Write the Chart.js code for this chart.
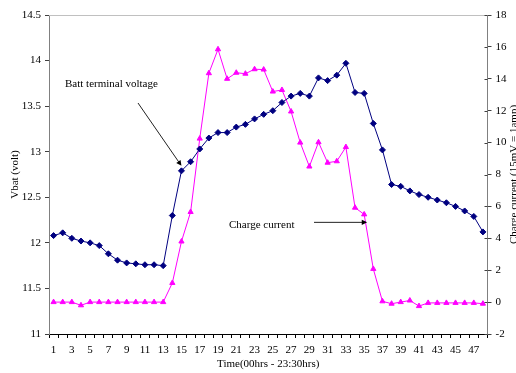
<!DOCTYPE html>
<html>
<head>
<meta charset="utf-8">
<script src="https://cdn.jsdelivr.net/npm/chart.js@4/dist/chart.umd.min.js"></script>
<style>
  html, body { margin: 0; padding: 0; background: #ffffff; }
  #wrap { width: 516px; height: 373px; }
</style>
</head>
<body>
<div id="wrap"><canvas id="c" width="516" height="373"></canvas></div>
<script>
// Half-hour time slots over one day
const timeSlots = Array.from({ length: 48 }, (_, i) => String(i + 1));

// Battery terminal voltage (V), left axis
const battVoltage = [
  12.08, 12.11, 12.05, 12.02, 12.00, 11.97, 11.88, 11.81, 11.78, 11.77, 11.76, 11.76,
  11.75, 12.30, 12.79, 12.89, 13.03, 13.15, 13.21, 13.21, 13.27, 13.30, 13.36, 13.41,
  13.45, 13.54, 13.61, 13.64, 13.61, 13.81, 13.78, 13.84, 13.97, 13.65, 13.64, 13.31,
  13.02, 12.64, 12.62, 12.57, 12.53, 12.50, 12.47, 12.44, 12.40, 12.35, 12.29, 12.12
];

// Charge current (15 mV = 1 A), right axis
const chargeCurrent = [
  0, 0, 0, -0.2, 0, 0, 0, 0, 0, 0, 0, 0,
  0, 1.2, 3.8, 5.65, 10.25, 14.35, 15.85, 14.0, 14.38, 14.32, 14.6, 14.58,
  13.2, 13.3, 11.95, 10.0, 8.5, 10.02, 8.74, 8.83, 9.72, 5.92, 5.5, 2.08,
  0.05, -0.1, 0, 0.1, -0.25, -0.05, -0.05, -0.05, -0.05, -0.05, -0.05, -0.1
];

const FONT = '"Liberation Serif", "Times New Roman", serif';

function arrow(ctx, x1, y1, x2, y2) {
  const ang = Math.atan2(y2 - y1, x2 - x1);
  const head = 6;
  ctx.beginPath();
  ctx.moveTo(x1, y1);
  ctx.lineTo(x2 - Math.cos(ang) * head * 0.8, y2 - Math.sin(ang) * head * 0.8);
  ctx.stroke();
  ctx.beginPath();
  ctx.moveTo(x2, y2);
  ctx.lineTo(x2 - head * Math.cos(ang - 0.45), y2 - head * Math.sin(ang - 0.45));
  ctx.lineTo(x2 - head * Math.cos(ang + 0.45), y2 - head * Math.sin(ang + 0.45));
  ctx.closePath();
  ctx.fill();
}

// Frame, inner ticks on the right axis, axis titles and callouts
const decorations = {
  id: 'decorations',
  afterDraw(chart) {
    const { ctx, chartArea: a, scales } = chart;
    const x = scales.x, yL = scales.yV, yR = scales.yI;
    ctx.save();
    // light top border of the plot area
    ctx.strokeStyle = '#c0c0c0';
    ctx.lineWidth = 1;
    ctx.beginPath();
    ctx.moveTo(a.left, Math.round(a.top) + 0.5);
    ctx.lineTo(a.right, Math.round(a.top) + 0.5);
    ctx.stroke();
    // right axis ticks cross into the plot
    ctx.strokeStyle = '#404040';
    yR.ticks.forEach((t) => {
      const py = Math.round(yR.getPixelForValue(t.value)) + 0.5;
      ctx.beginPath();
      ctx.moveTo(a.right - 3, py);
      ctx.lineTo(a.right, py);
      ctx.stroke();
    });

    ctx.fillStyle = '#000000';
    ctx.font = '11px ' + FONT;
    ctx.textBaseline = 'middle';

    // x axis title
    ctx.textAlign = 'center';
    ctx.fillText('Time(00hrs - 23:30hrs)', (a.left + a.right) / 2, 364);

    // left axis title
    ctx.save();
    ctx.translate(15, (a.top + a.bottom) / 2);
    ctx.rotate(-Math.PI / 2);
    ctx.fillText('Vbat (volt)', 0, 0);
    ctx.restore();

    // right axis title
    ctx.save();
    ctx.translate(514, (a.top + a.bottom) / 2);
    ctx.rotate(-Math.PI / 2);
    ctx.fillText('Charge current (15mV = 1amp)', 0, 0);
    ctx.restore();

    // callouts
    ctx.textAlign = 'left';
    ctx.fillText('Batt terminal voltage', 65, 84);
    ctx.fillText('Charge current', 229, 225);

    ctx.strokeStyle = '#222222';
    ctx.fillStyle = '#000000';
    ctx.lineWidth = 1;
    const vx = x.getPixelForValue(14);
    const vy = yL.getPixelForValue(battVoltage[14]) - 5;
    arrow(ctx, 138, 103, vx, vy);

    const cx = x.getPixelForValue(34) + 3;
    const cy = yR.getPixelForValue(5);
    arrow(ctx, 314, cy, cx, cy);
    ctx.restore();
  }
};

new Chart(document.getElementById('c'), {
  type: 'line',
  data: {
    labels: timeSlots,
    datasets: [
      {
        label: 'Batt terminal voltage',
        data: battVoltage,
        yAxisID: 'yV',
        borderColor: '#000080',
        backgroundColor: '#000080',
        borderWidth: 1,
        pointStyle: 'rectRot',
        pointRadius: 3,
        pointHoverRadius: 3,
        tension: 0
      },
      {
        label: 'Charge current',
        data: chargeCurrent,
        yAxisID: 'yI',
        borderColor: '#ff00ff',
        backgroundColor: '#ff00ff',
        borderWidth: 1,
        pointStyle: 'triangle',
        pointRadius: 3,
        pointHoverRadius: 3,
        tension: 0
      }
    ]
  },
  options: {
    responsive: false,
    animation: false,
    layout: { padding: { top: 15, left: 0, right: 0, bottom: 0 } },
    plugins: { legend: { display: false }, tooltip: { enabled: false } },
    scales: {
      x: {
        type: 'category',
        offset: true,
        afterFit(s) { s.height = 39; },
        grid: {
          offset: true,
          drawOnChartArea: false,
          tickLength: 4,
          tickColor: '#000000'
        },
        border: { color: '#000000', width: 1 },
        ticks: {
          autoSkip: false,
          maxRotation: 0,
          padding: 6,
          color: '#000000',
          font: { family: FONT, size: 11 },
          callback(v, i) { return i % 2 === 0 ? timeSlots[i] : ''; }
        }
      },
      yV: {
        position: 'left',
        min: 11,
        max: 14.5,
        afterFit(s) { s.width = 49; },
        grid: { drawOnChartArea: false, tickLength: 4, tickColor: '#404040' },
        border: { color: '#808080', width: 1 },
        ticks: {
          stepSize: 0.5,
          padding: 4,
          color: '#000000',
          font: { family: FONT, size: 11 },
          callback(v) { return String(Math.round(v * 10) / 10); }
        }
      },
      yI: {
        position: 'right',
        min: -2,
        max: 18,
        afterFit(s) { s.width = 28.5; },
        grid: { drawOnChartArea: false, tickLength: 4, tickColor: '#404040' },
        border: { color: '#808080', width: 1 },
        ticks: {
          stepSize: 2,
          padding: 4,
          color: '#000000',
          font: { family: FONT, size: 11 },
          callback(v) { return String(v); }
        }
      }
    }
  },
  plugins: [decorations]
});
</script>
</body>
</html>
